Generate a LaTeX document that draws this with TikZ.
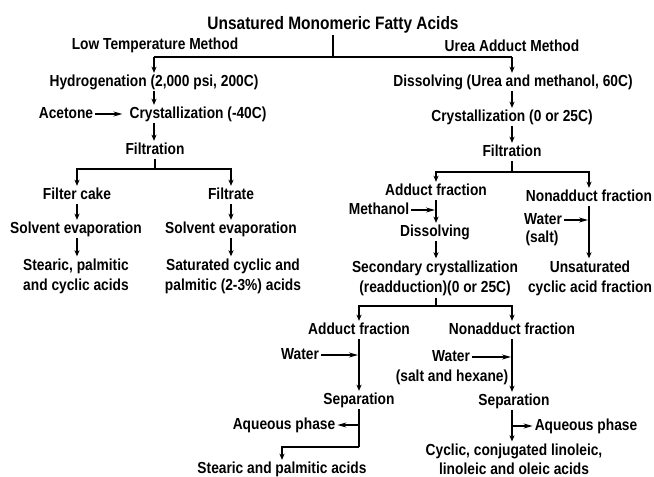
\documentclass[tikz,border=0pt]{standalone}
\usepackage{fontspec}
\setmainfont{Liberation Sans}[FakeStretch=0.86]
\usetikzlibrary{arrows.meta}
\tikzset{
  lbl/.style={font=\fontsize{16}{20}\selectfont\bfseries, inner sep=2pt, text height=11pt, text depth=3pt, align=center},
  lbltwo/.style={font=\fontsize{16}{20}\selectfont\bfseries, inner sep=2pt, align=center},
  ttl/.style={font=\fontsize{18}{20}\selectfont\bfseries, inner sep=2pt, text height=12.5pt, text depth=3pt},
  ln/.style={line width=1.3pt},
  arr/.style={ln, -{Stealth[length=6pt,width=5pt,inset=1.5pt]}},
  harr/.style={ln, -{Stealth[length=9pt,width=5pt,inset=3pt]}}
}
\begin{document}
\begin{tikzpicture}[x=1pt,y=-1pt]
\useasboundingbox (0,0) rectangle (654,477);
% nodes
\node[ttl] (title) at (333,25) {Unsatured Monomeric Fatty Acids};
\node[lbl] (ltm) at (155,45) {Low Temperature Method};
\node[lbl] (uam) at (512,47) {Urea Adduct Method};
\node[lbl] (hyd) at (154,82) {Hydrogenation (2,000 psi, 200C)};
\node[lbl] (dis) at (513,82) {Dissolving (Urea and methanol, 60C)};
\node[lbl] (acet) at (66,114) {Acetone};
\node[lbl] (cry) at (198,114) {Crystallization (-40C)};
\node[lbl] (filL) at (155,150) {Filtration};
\node[lbl] (cake) at (77,195) {Filter cake};
\node[lbl] (filt) at (231,195) {Filtrate};
\node[lbl] (sevL) at (76,229) {Solvent evaporation};
\node[lbl] (sevR) at (231,229) {Solvent evaporation};
\node[lbltwo] (stL) at (76,276) {Stearic, palmitic\\and cyclic acids};
\node[lbltwo] (satR) at (233,276) {Saturated cyclic and\\palmitic (2-3\%) acids};
\node[lbl] (cryR) at (512,117) {Crystallization (0 or 25C)};
\node[lbl] (filR) at (512,152) {Filtration};
\node[lbl] (adf) at (436,191) {Adduct fraction};
\node[lbl] (naf) at (589,197) {Nonadduct fraction};
\node[lbl] (meth) at (379,210) {Methanol};
\node[lbl] (diss) at (435,232) {Dissolving};
\node[lbltwo] (sec) at (435,278) {Secondary crystallization\\(readduction)(0 or 25C)};
\node[lbl] (watA) at (543,220) {Water};
\node[lbl] (saltA) at (542,238) {(salt)};
\node[lbltwo] (unsat) at (590,278) {Unsaturated\\cyclic acid fraction};
\node[lbl] (adf2) at (359,330) {Adduct fraction};
\node[lbl] (naf2) at (512,330) {Nonadduct fraction};
\node[lbl] (watB) at (300,355) {Water};
\node[lbl] (watC) at (451,357) {Water};
\node[lbl] (saltC) at (452,377) {(salt and hexane)};
\node[lbl] (sepL) at (359,400) {Separation};
\node[lbl] (sepR) at (514,401) {Separation};
\node[lbl] (aqL) at (284,425) {Aqueous phase};
\node[lbl] (aqR) at (586,426) {Aqueous phase};
\node[lbl, inner sep=1pt] (stp) at (282,469) {Stearic and palmitic acids};
\node[lbltwo, inner sep=0.5pt, font=\fontsize{16}{19}\selectfont\bfseries] (cyc) at (514,459) {Cyclic, conjugated linoleic,\\linoleic and oleic acids};
% junctions
\coordinate (jL) at (154,57);
\coordinate (jR) at (512,57);
\coordinate (sL) at (155,169);
\coordinate (sR) at (512,172);
\coordinate (s2) at (436,306);
\coordinate (bL) at (359,447);
% connectors
\draw[ln] (title.south) -- (title.south |- jL);
\draw[ln] (jL) -- (jR);
\draw[arr] (jL) -- (jL |- hyd.north);
\draw[arr] (jR) -- (jR |- dis.north);
\draw[arr] (hyd.south) -- (hyd.south |- cry.north);
\draw[harr, shorten >=5pt] (acet.east) -- (cry.west);
\draw[arr] (hyd.south |- cry.south) -- (hyd.south |- filL.north);
\draw[ln] (filL.south) -- (sL);
\draw[arr] (sL) -| (cake.north);
\draw[arr] (sL) -| (filt.north);
\draw[arr] (cake.south) -- (cake.south |- sevL.north);
\draw[arr] (cake.south |- sevL.south) -- (cake.south |- stL.north);
\draw[arr] (filt.south) -- (filt.south |- sevR.north);
\draw[arr] (filt.south |- sevR.south) -- (filt.south |- satR.north);
\draw[arr] (cryR.north |- dis.south) -- (cryR.north);
\draw[arr] (cryR.south) -- (filR.north);
\draw[ln] (filR.south) -- (sR);
\draw[arr] (sR) -| (adf.north);
\draw[arr] (sR) -| (naf.north);
\draw[arr] (adf.south) -- (adf.south |- diss.north);
\draw[harr, shorten >=1pt] (meth.east) -- (meth.east -| adf.south);
\draw[arr] (adf.south |- diss.south) -- (adf.south |- sec.north);
\draw[arr] (naf.south) -- (naf.south |- unsat.north);
\draw[harr, shorten >=1pt] (watA.east) -- (watA.east -| naf.south);
\draw[ln] (s2 |- sec.south) -- (s2);
\draw[arr] (s2) -| (adf2.north);
\draw[arr] (s2) -| (naf2.north);
\draw[arr] (adf2.south) -- (adf2.south |- sepL.north);
\draw[harr, shorten >=1pt] (watB.east) -- (watB.east -| adf2.south);
\draw[ln] (sepL.south) -- (bL);
\draw[arr, shorten >=1pt] (bL) -| (stp.north);
\draw[harr] (aqL.east -| sepL.south) -- (aqL.east);
\draw[arr] (naf2.south) -- (naf2.south |- sepR.north);
\draw[harr, shorten >=1pt] (watC.east) -- (watC.east -| naf2.south);
\draw[arr, shorten >=1.5pt] (naf2.south |- sepR.south) -- (naf2.south |- cyc.north);
\draw[harr] (aqR.west -| naf2.south) -- (aqR.west);
\end{tikzpicture}
\end{document}
